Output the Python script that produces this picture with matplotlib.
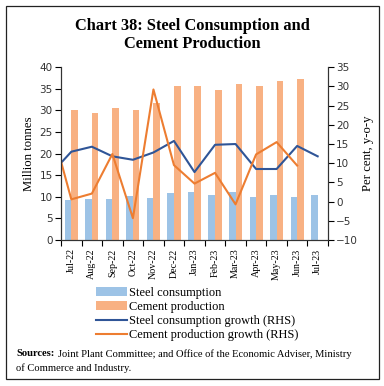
import numpy as np
import matplotlib
matplotlib.use('Agg')
import matplotlib.pyplot as plt
import matplotlib.patches as patches

months = ['Jul-22', 'Aug-22', 'Sep-22', 'Oct-22', 'Nov-22', 'Dec-22', 'Jan-23',
          'Feb-23', 'Mar-23', 'Apr-23', 'May-23', 'Jun-23', 'Jul-23']

steel = [9.3, 9.5, 9.5, 10.2, 9.7, 10.9, 11.2, 10.5, 11.2, 10.0, 10.5, 10.0, 10.5]
cement = [30.0, 29.3, 30.5, 30.0, 31.6, 35.6, 35.6, 34.8, 36.0, 35.7, 36.8, 37.3]

# growth series start one month earlier (Jun-22), which falls outside the axis
steel_growth = [7.2, 13.0, 14.3, 11.8, 10.9, 12.8, 15.8, 7.7, 14.8, 15.0, 8.5, 8.5, 14.5, 11.8]
cement_growth = [20.2, 0.6, 2.1, 12.4, -4.3, 29.2, 9.5, 4.7, 7.5, -0.7, 12.3, 15.5, 9.4]

blue_bar = '#9DC3E6'
orange_bar = '#F8B183'
blue_line = '#2F5597'
orange_line = '#ED7D31'
serif = 'Liberation Serif'

fig = plt.figure(figsize=(3.84, 3.86), dpi=100)
ax = fig.add_axes([0.159, 0.378, 0.695, 0.448])
ax2 = ax.twinx()

x = np.arange(len(months))
w = 0.32
b1 = ax.bar(x[:len(steel)] - w / 2, steel, w, color=blue_bar)
b2 = ax.bar(x[:len(cement)] + w / 2, cement, w, color=orange_bar)

xg = np.arange(-1, len(steel_growth) - 1)
l1, = ax2.plot(xg, steel_growth, color=blue_line, lw=1.5)
xc = np.arange(-1, len(cement_growth) - 1)
l2, = ax2.plot(xc, cement_growth, color=orange_line, lw=1.5)

ax.set_xlim(-0.5, len(months) - 0.5)
ax.set_ylim(0, 40)
ax.set_yticks(range(0, 41, 5))
ax2.set_ylim(-10, 35)
ax2.set_yticks(range(-10, 36, 5))

ax.set_xticks(x)
ax.set_xticklabels(months, rotation=90, fontsize=7.2, family=serif)
ax.set_xticks(np.arange(-0.5, len(months)), minor=True)
ax.tick_params(axis='x', which='major', length=0, pad=6)
ax.tick_params(axis='x', which='minor', length=4, direction='out', width=0.8)
ax.tick_params(axis='y', labelsize=7.5, length=4, width=0.8, pad=2, labelcolor='#333333')
ax2.tick_params(axis='y', labelsize=7.5, length=4, width=0.8, pad=2, labelcolor='#333333')

for a in (ax, ax2):
    a.spines['top'].set_visible(False)
    for s in ('left', 'right', 'bottom'):
        a.spines[s].set_color('#333333')
        a.spines[s].set_linewidth(0.8)

ax.set_ylabel('Million tonnes', family=serif, fontsize=9.2, labelpad=3)
ax2.set_ylabel('Per cent, y-o-y', family=serif, fontsize=9.2, labelpad=3)

fig.text(0.5, 0.91, 'Chart 38: Steel Consumption and\nCement Production',
         ha='center', va='center', family=serif, fontweight='bold',
         fontsize=11.8, linespacing=1.2)

fig.legend([b1, b2, l1, l2],
           ['Steel consumption', 'Cement production',
            'Steel consumption growth (RHS)', 'Cement production growth (RHS)'],
           loc='upper left', bbox_to_anchor=(0.25, 0.257), frameon=False,
           prop={'family': serif, 'size': 8.9}, handlelength=2.5,
           handletextpad=0.15, labelspacing=0.18, borderaxespad=0, borderpad=0)

src = fig.text(0.042, 0.083, 'Sources:', fontsize=7.6, family=serif, va='center',
               fontweight='bold')
fig.canvas.draw()
bb = src.get_window_extent().transformed(fig.transFigure.inverted())
fig.text(bb.x1 + 0.008, 0.083,
         'Joint Plant Committee; and Office of the Economic Adviser, Ministry',
         fontsize=7.6, family=serif, va='center')
fig.text(0.042, 0.047, 'of Commerce and Industry.', fontsize=7.6, family=serif, va='center')

fig.patches.append(patches.Rectangle((6 / 384, 7 / 386), 373 / 384, 373 / 386,
                                     transform=fig.transFigure, fill=False,
                                     edgecolor='#222222', linewidth=0.9))

fig.savefig('out.png', dpi=100)
